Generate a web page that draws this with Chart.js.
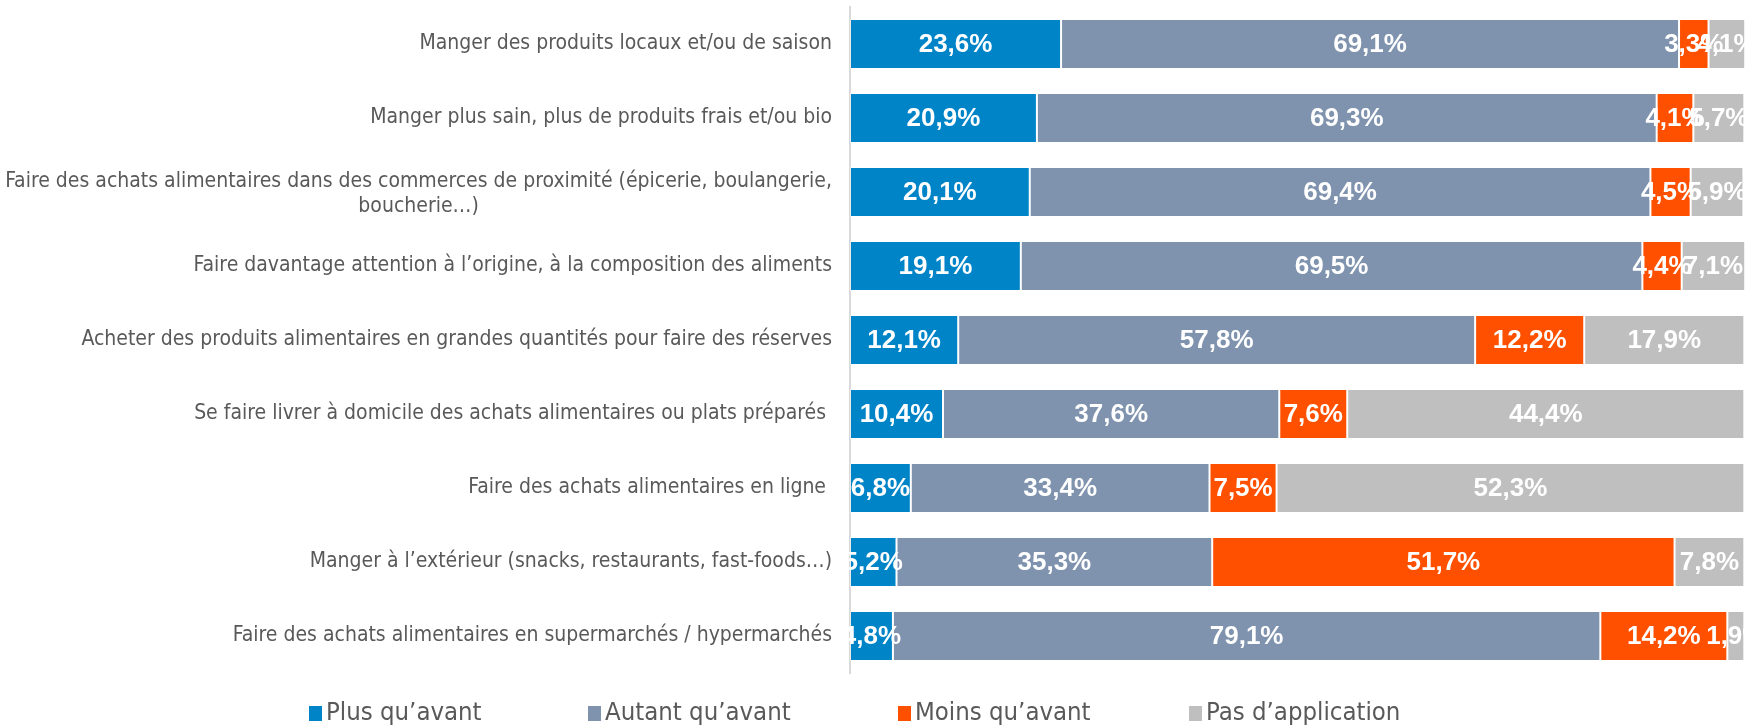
<!DOCTYPE html>
<html lang="fr">
<head>
<meta charset="utf-8">
<script src="https://cdn.jsdelivr.net/npm/chart.js@4/dist/chart.umd.min.js"></script>
<style>
  html, body { margin: 0; padding: 0; background: #ffffff; }
  #wrap { width: 1750px; height: 726px; }
</style>
</head>
<body>
<div id="wrap"><canvas id="chart" width="1750" height="726"></canvas></div>
<script>
// Catégories (un tableau = plusieurs lignes)
const categories = [
  'Manger des produits locaux et/ou de saison',
  'Manger plus sain, plus de produits frais et/ou bio',
  ['Faire des achats alimentaires dans des commerces de proximité (épicerie, boulangerie,', 'boucherie…)'],
  'Faire davantage attention à l’origine, à la composition des aliments',
  'Acheter des produits alimentaires en grandes quantités pour faire des réserves',
  'Se faire livrer à domicile des achats alimentaires ou plats préparés ',
  'Faire des achats alimentaires en ligne ',
  'Manger à l’extérieur (snacks, restaurants, fast-foods…)',
  'Faire des achats alimentaires en supermarchés / hypermarchés'
];

const seriesNames = ['Plus qu’avant', 'Autant qu’avant', 'Moins qu’avant', 'Pas d’application'];

const plusQuAvant      = [23.6, 20.9, 20.1, 19.1, 12.1, 10.4, 6.8, 5.2, 4.8];
const autantQuAvant    = [69.1, 69.3, 69.4, 69.5, 57.8, 37.6, 33.4, 35.3, 79.1];
const moinsQuAvant     = [3.3, 4.1, 4.5, 4.4, 12.2, 7.6, 7.5, 51.7, 14.2];
const pasDApplication  = [4.1, 5.7, 5.9, 7.1, 17.9, 44.4, 52.3, 7.8, 1.9];

const colors = ['#0084C8', '#7F93AE', '#FF5000', '#BFBFBF'];

const LABEL_FONT = '"DejaVu Sans Condensed", "DejaVu Sans", sans-serif';

// Étiquettes de valeurs au centre de chaque segment
const valueLabels = {
  id: 'valueLabels',
  afterDatasetsDraw(chart) {
    const ctx = chart.ctx;
    ctx.save();
    ctx.font = 'bold 26px "Liberation Sans", Arial, sans-serif';
    ctx.fillStyle = '#ffffff';
    ctx.textAlign = 'center';
    ctx.textBaseline = 'middle';
    chart.data.datasets.forEach((ds, di) => {
      const meta = chart.getDatasetMeta(di);
      meta.data.forEach((el, i) => {
        const v = ds.data[i];
        const x = (el.x + el.base) / 2;
        ctx.fillText(v.toFixed(1).replace('.', ',') + '%', x, el.y + 1);
      });
    });
    ctx.restore();
  }
};

// Libellés de catégories (alignés à droite, 2e ligne centrée)
const categoryLabels = {
  id: 'categoryLabels',
  afterDraw(chart) {
    const ctx = chart.ctx;
    const y = chart.scales.y;
    const right = y.right - 18;
    ctx.save();
    ctx.font = '21px ' + LABEL_FONT;
    ctx.fillStyle = '#595959';
    ctx.textBaseline = 'middle';
    chart.data.labels.forEach((lab, i) => {
      const cy = y.getPixelForTick(i);
      if (Array.isArray(lab)) {
        const w0 = ctx.measureText(lab[0]).width;
        ctx.textAlign = 'right';
        ctx.fillText(lab[0], right, cy - 10);
        ctx.textAlign = 'center';
        ctx.fillText(lab[1], right - w0 / 2, cy + 15);
      } else {
        ctx.textAlign = 'right';
        ctx.fillText(lab, right, cy);
      }
    });
    ctx.restore();
  }
};

// Légende en bas, espacée comme dans l'original
const bottomLegend = {
  id: 'bottomLegend',
  afterDraw(chart) {
    const ctx = chart.ctx;
    const starts = [309, 588, 898, 1189];
    const cy = 713;
    ctx.save();
    ctx.font = '25.5px ' + LABEL_FONT;
    ctx.textAlign = 'left';
    ctx.textBaseline = 'middle';
    chart.data.datasets.forEach((ds, i) => {
      const x = starts[i];
      ctx.fillStyle = ds.backgroundColor;
      ctx.fillRect(x, cy - 7, 13, 15);
      ctx.fillStyle = '#595959';
      ctx.fillText(ds.label, x + 17, cy);
    });
    ctx.restore();
  }
};

const seriesData = [plusQuAvant, autantQuAvant, moinsQuAvant, pasDApplication];

new Chart(document.getElementById('chart'), {
  type: 'bar',
  data: {
    labels: categories,
    datasets: seriesData.map((d, i) => ({
      label: seriesNames[i],
      data: d,
      backgroundColor: colors[i],
      borderColor: 'rgba(255,255,255,0.45)',
      borderWidth: 1,
      borderSkipped: false,
      barPercentage: 0.676,
      categoryPercentage: 1
    }))
  },
  options: {
    indexAxis: 'y',
    responsive: false,
    animation: false,
    layout: { padding: { top: 7, right: 3, bottom: 53, left: 0 } },
    plugins: {
      legend: { display: false },
      tooltip: { enabled: false }
    },
    scales: {
      x: {
        stacked: true,
        min: 0,
        max: 100.3,
        display: false
      },
      y: {
        stacked: true,
        grid: { display: false },
        border: { display: true, color: '#D9D9D9', width: 2 },
        ticks: { display: false },
        afterFit(scale) { scale.width = 850; }
      }
    }
  },
  plugins: [valueLabels, categoryLabels, bottomLegend]
});
</script>
</body>
</html>
